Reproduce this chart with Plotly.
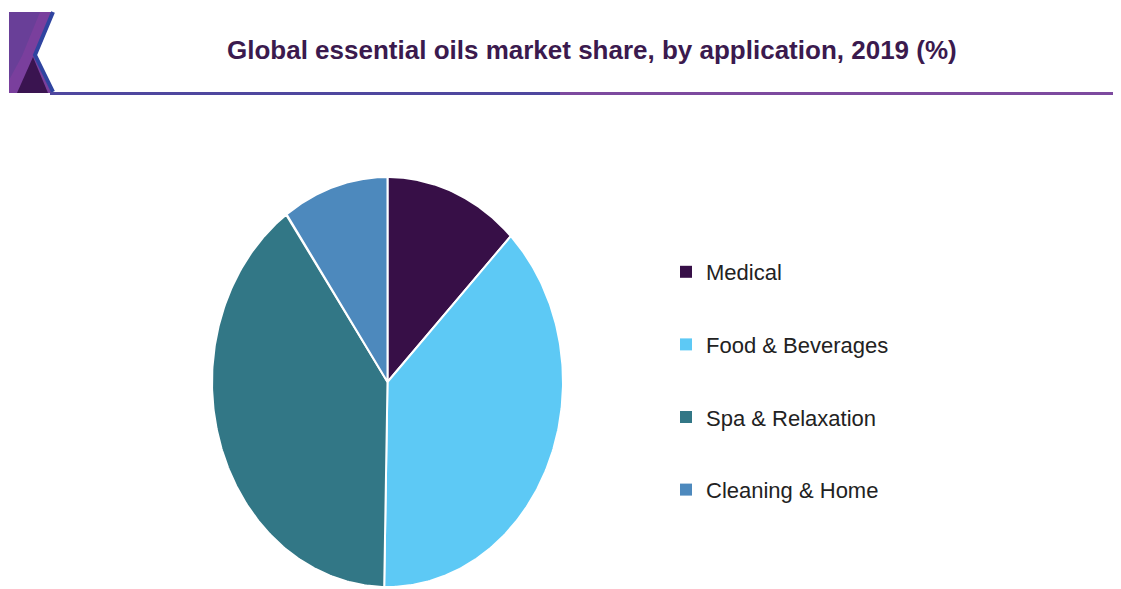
import numpy as np
import plotly.graph_objects as go

W, H = 1121, 589
OFF = 8  # page body offset

categories = ["Medical", "Food & Beverages", "Spa & Relaxation", "Cleaning & Home"]
shares = [12.4, 37.9, 39.9, 9.8]
colors = ["#370f47", "#5dc9f5", "#327786", "#4d89bd"]
title_text = "Global essential oils market share, by application, 2019 (%)"


def px(x):
    return (x - OFF) / W


def py(y):
    return 1 - (y - OFF) / H


fig = go.Figure()

# wedges built from the share values (clockwise from 12 o'clock)
total = sum(shares)
cum = np.concatenate([[0], np.cumsum(shares)]) / total * 2 * np.pi
for name, val, c, a0, a1 in zip(categories, shares, colors, cum[:-1], cum[1:]):
    th = np.linspace(a0, a1, 200)
    xs = np.concatenate([[0], np.sin(th), [0]])
    ys = np.concatenate([[0], np.cos(th), [0]])
    fig.add_trace(go.Scatter(
        x=xs, y=ys, mode="lines", fill="toself", fillcolor=c,
        line=dict(color="white", width=2), name=name, showlegend=False,
        hoverinfo="text", text=f"{name}: {val}%",
    ))

# legend entries
for i, (name, c) in enumerate(zip(categories, colors)):
    fig.add_trace(go.Scatter(
        x=[None], y=[None], mode="markers", name=name, legendgroup=f"g{i}",
        marker=dict(symbol="square", size=13, color=c),
    ))

# header decoration
shapes = []


def path(pts):
    return "M " + " L ".join(f"{px(a):.5f},{py(b):.5f}" for a, b in pts) + " Z"


shapes.append(dict(type="path", xref="paper", yref="paper",
                   path=path([(9, 12), (52, 12), (34, 56), (52, 93), (9, 93)]),
                   fillcolor="#7a3f9d", line=dict(width=0), layer="above"))
shapes.append(dict(type="path", xref="paper", yref="paper",
                   path=path([(9, 12), (40, 12), (22, 56), (9, 80)]),
                   fillcolor="#5e3f95", line=dict(width=0), opacity=0.6, layer="above"))
shapes.append(dict(type="path", xref="paper", yref="paper",
                   path=path([(17, 93), (33, 57), (48, 93)]),
                   fillcolor="#3a1450", line=dict(width=0), layer="above"))
shapes.append(dict(type="path", xref="paper", yref="paper",
                   path="M {:.5f},{:.5f} L {:.5f},{:.5f} L {:.5f},{:.5f}".format(
                       px(53), py(12), px(35), py(55), px(53), py(92)),
                   line=dict(color="#2f44a0", width=4), layer="above"))
shapes.append(dict(type="line", xref="paper", yref="paper",
                   x0=px(50), x1=px(560), y0=py(93.5), y1=py(93.5),
                   line=dict(color="#4f479f", width=3), layer="above"))
shapes.append(dict(type="line", xref="paper", yref="paper",
                   x0=px(560), x1=px(1129), y0=py(93.5), y1=py(93.5),
                   line=dict(color="#7d4a9f", width=3), layer="above"))

fig.update_layout(
    width=W, height=H,
    margin=dict(l=0, r=0, t=0, b=0),
    paper_bgcolor="white", plot_bgcolor="white",
    shapes=shapes,
    xaxis=dict(domain=[px(212), px(563)], range=[-1, 1], visible=False, fixedrange=True),
    yaxis=dict(domain=[py(587), py(177)], range=[-1, 1], visible=False, fixedrange=True),
    showlegend=True,
    legend=dict(x=px(666), y=py(251), xanchor="left", yanchor="top",
                font=dict(family="Liberation Sans, Arial", size=22, color="#222222"),
                tracegroupgap=41, bgcolor="rgba(0,0,0,0)", itemsizing="constant"),
    annotations=[dict(text=f"<b>{title_text}</b>", xref="paper", yref="paper",
                      x=px(592), y=py(50), xanchor="center", yanchor="middle",
                      showarrow=False,
                      font=dict(family="Liberation Sans, Arial", size=26, color="#3b1a4e"))],
)

fig.write_html("out.html")
